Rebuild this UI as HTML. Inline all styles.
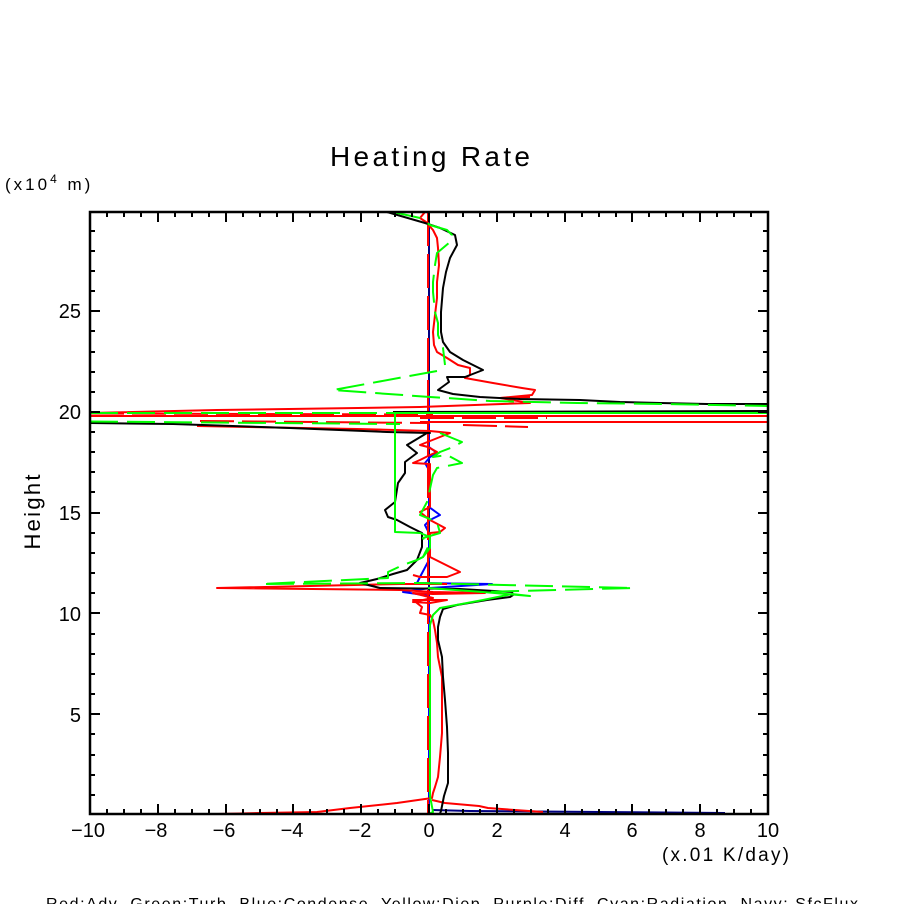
<!DOCTYPE html>
<html>
<head>
<meta charset="utf-8">
<style>
html,body{margin:0;padding:0;background:#fff;}
svg{display:block;}
text{font-family:"Liberation Sans","DejaVu Sans",sans-serif;fill:#000;}
</style>
</head>
<body>
<svg width="904" height="904" viewBox="0 0 904 904" xmlns="http://www.w3.org/2000/svg">
<rect x="0" y="0" width="904" height="904" fill="#fff"/>
<defs>
<clipPath id="pc"><rect x="90" y="212" width="678" height="602"/></clipPath>
</defs>

<!-- Title & labels -->
<text x="330" y="166" font-size="28" textLength="200" lengthAdjust="spacing">Heating Rate</text>
<text x="5" y="190" font-size="17" letter-spacing="3" xml:space="preserve" style="white-space:pre">(x10<tspan dy="-7" font-size="12">4</tspan><tspan dy="7"> m)</tspan></text>
<text transform="translate(40,512) rotate(-90)" text-anchor="middle" font-size="22" textLength="75" lengthAdjust="spacing">Height</text>
<text x="662" y="861" font-size="19" textLength="127" lengthAdjust="spacing">(x.01 K/day)</text>
<text x="46" y="909" font-size="16" textLength="812" lengthAdjust="spacing" xml:space="preserve" style="white-space:pre">Red:Adv  Green:Turb  Blue:Condense  Yellow:Diep  Purple:Diff  Cyan:Radiation  Navy: SfcFlux</text>

<!-- Y tick labels -->
<g font-size="20" text-anchor="end">
<text x="81" y="722">5</text>
<text x="81" y="621">10</text>
<text x="81" y="520">15</text>
<text x="81" y="419">20</text>
<text x="81" y="318">25</text>
</g>
<!-- X tick labels -->
<g font-size="20" text-anchor="middle">
<text x="88" y="837">−10</text>
<text x="156" y="837">−8</text>
<text x="224" y="837">−6</text>
<text x="292" y="837">−4</text>
<text x="360" y="837">−2</text>
<text x="429" y="837">0</text>
<text x="497" y="837">2</text>
<text x="565" y="837">4</text>
<text x="632" y="837">6</text>
<text x="700" y="837">8</text>
<text x="768" y="837">10</text>
</g>

<!-- Data -->
<g clip-path="url(#pc)" fill="none" stroke-width="2" stroke-linejoin="round">
<!-- navy -->
<polyline stroke="#000080" points="429,212 429,814"/>
<polyline stroke="#000080" points="432,810 470,811 600,812 725,813"/>
<!-- blue -->
<polyline stroke="#0000ff" points="429,395 429,447 437,453 430,457 425,463 429,470 429,507 440,515 430,520 425,525 429,533 429,560 420,577 417,583 492,584 430,588 403,592 417,594 429,596 429,805"/>
<!-- red dashed -->
<g stroke="#ff0000" stroke-dasharray="34 8">
<polyline points="428,212 428,814"/>
<polyline points="90,413.5 433,414.5"/>
<polyline points="200,421 430,423"/>
<polyline points="420,418 547,418"/>
<polyline points="463,425 528,427"/>
<polyline points="500,398 530,397"/>
</g>
<!-- red solid -->
<g stroke="#ff0000">
<polyline points="425,212 420,218 426,222 433,230 437,238 438,248 439,265 437,282 437,298 435,315 433,332 434,345 437,352 447,358 458,365 470,368 470,375 465,378 493,383 522,388 535,390 532,395 500,398 530,403 420,407 358,408 217,410 90,413"/>
<polyline points="90,416 768,416"/>
<polyline points="420,422 768,422"/>
<polyline points="197,426 357,429 430,431 450,433 420,445 428,447 437,452 430,455 420,460 413,463 430,464 430,507 420,512 430,520 445,528 440,532 430,533 430,557 460,572 447,577 420,577 413,575"/>
<polyline points="447,584 400,584 217,588 400,590 433,592 485,593 433,594 413,593 433,598 413,602 430,603 447,600 413,600 422,607 420,613 430,615 433,620 435,630 437,643 438,657 442,677 442,700 442,733 440,757 438,777 435,787 433,793 432,798 397,803 350,808 317,812 260,813 218,814"/>
<polyline points="432,800 445,803 479,806 488,808 543,812"/>
</g>
<!-- black -->
<g stroke="#000000">
<polyline points="387,212 425,223 440,228 455,235 457,245 450,258 446,272 443,288 441,312 441,332 443,342 450,352 463,360 483,370 465,377 447,377 449,382 438,390 453,394 480,397 520,399 580,400 620,402 660,403 707,404 768,404"/>
<polyline points="393,412 768,411"/>
<polyline points="90,423 173,424 290,428 387,432 430,433 427,433 407,445 417,453 405,462 405,473 398,483 395,502 385,510 388,517 397,520 410,527 422,533 422,547 417,560 407,570 393,574 377,579 360,583 380,588 460,589 512,592 513,595 510,597 487,600 457,605 443,609 440,617 438,627 438,640 442,657 443,677 445,700 447,727 448,753 448,783 444,796 441,811 439,816"/>
</g>
<!-- green solid -->
<g stroke="#00ff00">
<polyline points="768,413 395,413 395,532 420,533 430,537 430,548 423,557 417,560"/>
<polyline points="428,588 483,592 530,596 512,594 483,600 467,603 440,608 433,615 430,625 430,760 430,796 433,812 423,816"/>
</g>
<!-- green dashed -->
<g stroke="#00ff00" stroke-dasharray="28 9">
<polyline points="393,212 420,218 430,225 447,230 452,235 450,242 437,253 435,265 433,282 433,292 435,312 438,323 438,335 443,348 445,365"/>
<polyline points="437,371 333,390 430,397 447,398 490,401 577,403 663,404 768,406"/>
<polyline points="90,413 395,413"/>
<polyline points="90,421.5 400,424"/>
<polyline points="440,433 462,442 453,447 440,452 433,457 447,455 462,463 437,468 433,475 428,498 427,502 420,515 437,522 440,533 423,538 428,547 423,557 417,560 403,565 388,572 388,578 262,584 420,583 633,588 518,591 480,592"/>
</g>
</g>

<!-- Axes box -->
<rect x="90" y="212" width="678" height="602" fill="none" stroke="#000" stroke-width="2.5"/>

<!-- Y ticks -->
<g stroke="#000" stroke-width="2">
<path d="M90 795H95M768 795H763M90 775H95M768 775H763M90 755H95M768 755H763M90 734H95M768 734H763
M90 714H100M768 714H758
M90 694H95M768 694H763M90 674H95M768 674H763M90 654H95M768 654H763M90 634H95M768 634H763
M90 613H100M768 613H758
M90 593H95M768 593H763M90 573H95M768 573H763M90 553H95M768 553H763M90 533H95M768 533H763
M90 513H100M768 513H758
M90 492H95M768 492H763M90 472H95M768 472H763M90 452H95M768 452H763M90 432H95M768 432H763
M90 412H100M768 412H758
M90 392H95M768 392H763M90 372H95M768 372H763M90 352H95M768 352H763M90 331H95M768 331H763
M90 311H100M768 311H758
M90 291H95M768 291H763M90 271H95M768 271H763M90 251H95M768 251H763M90 231H95M768 231H763"/>
</g>
<!-- X ticks -->
<g stroke="#000" stroke-width="2">
<path d="
M107 814V809M107 212V217M124 814V809M124 212V217M141 814V809M141 212V217
M158 814V804M158 212V222
M175 814V809M175 212V217M192 814V809M192 212V217M209 814V809M209 212V217
M226 814V804M226 212V222
M243 814V809M243 212V217M260 814V809M260 212V217M277 814V809M277 212V217
M293 814V804M293 212V222
M310 814V809M310 212V217M327 814V809M327 212V217M344 814V809M344 212V217
M361 814V804M361 212V222
M378 814V809M378 212V217M395 814V809M395 212V217M412 814V809M412 212V217
M429 814V804M429 212V222
M446 814V809M446 212V217M463 814V809M463 212V217M480 814V809M480 212V217
M497 814V804M497 212V222
M514 814V809M514 212V217M531 814V809M531 212V217M548 814V809M548 212V217
M565 814V804M565 212V222
M582 814V809M582 212V217M599 814V809M599 212V217M616 814V809M616 212V217
M632 814V804M632 212V222
M649 814V809M649 212V217M666 814V809M666 212V217M683 814V809M683 212V217
M700 814V804M700 212V222
M717 814V809M717 212V217M734 814V809M734 212V217M751 814V809M751 212V217"/>
</g>
</svg>
</body>
</html>
